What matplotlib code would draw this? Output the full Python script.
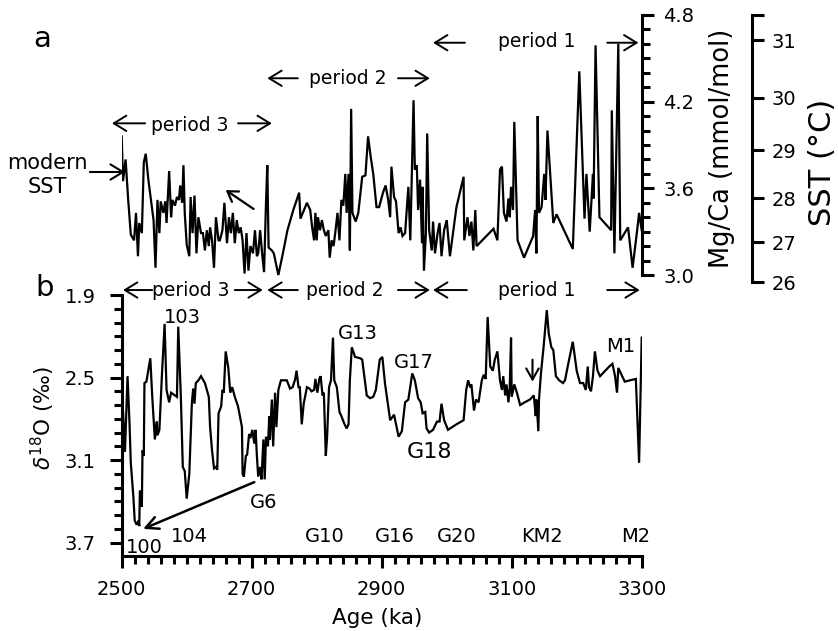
import numpy as np
import matplotlib.pyplot as plt
from matplotlib.ticker import FixedLocator, MultipleLocator, FormatStrFormatter

plt.rcParams['font.family'] = 'DejaVu Sans'
plt.rcParams['mathtext.fontset'] = 'dejavusans'

# planktonic Mg/Ca record (mmol/mol)
mgca_age = [2500, 2502, 2506, 2510, 2514, 2519, 2522, 2525, 2527, 2531, 2534, 2537,
            2541, 2545, 2549, 2552, 2555, 2558, 2560, 2564, 2567, 2569, 2573, 2576,
            2578, 2582, 2585, 2588, 2590, 2593, 2595, 2597, 2600, 2604, 2606, 2609,
            2612, 2615, 2618, 2622, 2625, 2628, 2631, 2634, 2636, 2639, 2642, 2645,
            2649, 2651, 2655, 2658, 2662, 2665, 2668, 2671, 2674, 2677, 2680, 2683,
            2686, 2689, 2692, 2695, 2698, 2702, 2705, 2708, 2710, 2713, 2716, 2719,
            2722, 2724, 2726, 2731, 2734, 2741, 2748, 2755, 2764, 2773, 2775, 2785,
            2790, 2793, 2796, 2798, 2800, 2802, 2805, 2808, 2811, 2814, 2818, 2820,
            2823, 2826, 2829, 2832, 2835, 2838, 2841, 2844, 2846, 2849, 2851, 2853,
            2855, 2860, 2864, 2870, 2875, 2879, 2883, 2887, 2892, 2896, 2902, 2906,
            2910, 2913, 2915, 2919, 2922, 2926, 2929, 2932, 2936, 2941, 2944, 2949,
            2951, 2954, 2956, 2959, 2962, 2963, 2965, 2968, 2970, 2973, 2977, 2979,
            2982, 2986, 2989, 2992, 2996, 3000, 3005, 3015, 3026, 3027, 3032, 3035,
            3038, 3041, 3044, 3046, 3072, 3078, 3082, 3085, 3088, 3092, 3095, 3097,
            3099, 3102, 3104, 3109, 3119, 3133, 3136, 3138, 3140, 3142, 3146, 3150,
            3152, 3155, 3164, 3169, 3194, 3204, 3212, 3215, 3220, 3225, 3226, 3229,
            3235, 3253, 3254, 3258, 3264, 3267, 3279, 3286, 3293, 3296, 3300]
mgca = [3.96, 3.65, 3.80, 3.52, 3.28, 3.24, 3.43, 3.13, 3.36, 3.29, 3.78, 3.84,
        3.66, 3.52, 3.38, 3.05, 3.52, 3.29, 3.51, 3.43, 3.51, 3.36, 3.72, 3.40,
        3.52, 3.48, 3.54, 3.52, 3.62, 3.50, 3.76, 3.43, 3.21, 3.13, 3.54, 3.29,
        3.55, 3.15, 3.40, 3.29, 3.29, 3.17, 3.31, 3.20, 3.33, 3.24, 3.05, 3.40,
        3.24, 3.24, 3.31, 3.50, 3.22, 3.40, 3.29, 3.43, 3.22, 3.38, 3.29, 3.33,
        3.24, 3.01, 3.29, 3.03, 3.20, 3.15, 3.31, 3.13, 3.15, 3.31, 3.15, 3.02,
        3.50, 3.76, 3.19, 3.17, 3.15, 3.00, 3.15, 3.31, 3.45, 3.57, 3.39, 3.50,
        3.45, 3.33, 3.24, 3.43, 3.24, 3.40, 3.31, 3.38, 3.31, 3.27, 3.31, 3.12,
        3.24, 3.20, 3.31, 3.43, 3.24, 3.52, 3.48, 3.70, 3.43, 3.70, 3.17, 4.15,
        3.43, 3.37, 3.43, 3.68, 3.69, 3.96, 3.82, 3.70, 3.47, 3.47, 3.57, 3.62,
        3.52, 3.40, 3.75, 3.54, 3.51, 3.29, 3.33, 3.27, 3.29, 3.61, 3.24, 4.21,
        3.73, 3.76, 3.45, 3.66, 3.22, 3.61, 3.03, 3.29, 3.98, 3.31, 3.17, 3.37,
        3.15, 3.29, 3.36, 3.13, 3.31, 3.38, 3.13, 3.47, 3.68, 3.24, 3.40, 3.27,
        3.37, 3.17, 3.45, 3.20, 3.32, 3.24, 3.73, 3.75, 3.43, 3.37, 3.53, 3.40,
        3.61, 3.45, 4.06, 3.24, 3.12, 3.27, 3.45, 3.15, 4.10, 3.43, 3.47, 3.70,
        3.52, 4.00, 3.36, 3.42, 3.18, 4.41, 3.39, 3.70, 3.30, 3.70, 3.53, 4.59,
        3.40, 3.31, 4.14, 3.15, 4.60, 3.24, 3.33, 3.05, 3.31, 3.43, 3.31]

# benthic oxygen isotope record (per mil)
d18o_age = [2500, 2502, 2505, 2509, 2512, 2514, 2518, 2520, 2523, 2526, 2527, 2528,
            2531, 2532, 2534, 2535, 2538, 2544, 2547, 2551, 2554, 2555, 2558, 2562,
            2566, 2569, 2573, 2576, 2582, 2585, 2587, 2591, 2594, 2597, 2600, 2604,
            2608, 2610, 2612, 2614, 2618, 2622, 2628, 2634, 2636, 2639, 2642, 2645,
            2647, 2649, 2653, 2655, 2657, 2660, 2664, 2667, 2670, 2674, 2679, 2685,
            2686, 2688, 2691, 2693, 2696, 2698, 2701, 2704, 2706, 2708, 2710, 2713,
            2715, 2718, 2720, 2722, 2725, 2727, 2728, 2731, 2733, 2736, 2738, 2741,
            2745, 2754, 2759, 2763, 2767, 2769, 2772, 2774, 2777, 2780, 2785, 2789,
            2792, 2796, 2798, 2801, 2804, 2806, 2809, 2811, 2814, 2816, 2819, 2822,
            2825, 2827, 2831, 2835, 2838, 2842, 2846, 2849, 2851, 2854, 2859, 2867,
            2870, 2877, 2882, 2887, 2891, 2897, 2901, 2905, 2913, 2919, 2926, 2931,
            2936, 2941, 2947, 2951, 2956, 2960, 2963, 2967, 2969, 2973, 2979, 2985,
            2989, 2992, 2996, 3002, 3015, 3026, 3030, 3033, 3036, 3038, 3042, 3045,
            3049, 3054, 3057, 3060, 3063, 3067, 3071, 3074, 3078, 3082, 3085, 3087,
            3090, 3092, 3095, 3097, 3099, 3100, 3104, 3108, 3113, 3120, 3128, 3134,
            3137, 3138, 3141, 3142, 3145, 3149, 3154, 3157, 3161, 3164, 3168, 3173,
            3179, 3182, 3187, 3194, 3200, 3205, 3210, 3214, 3217, 3219, 3222, 3225,
            3228, 3232, 3236, 3244, 3250, 3255, 3259, 3262, 3264, 3268, 3274, 3282,
            3291, 3296, 3300]
d18o = [2.76, 2.74, 3.04, 2.49, 2.83, 3.12, 3.37, 3.54, 3.57, 3.54, 3.58, 3.32,
        3.44, 3.03, 3.07, 2.54, 2.53, 2.36, 2.64, 2.95, 2.82, 2.92, 2.88, 2.47,
        2.11, 2.59, 2.68, 2.61, 2.63, 2.64, 2.13, 2.64, 3.15, 3.18, 3.38, 3.20,
        2.68, 2.58, 2.69, 2.54, 2.52, 2.49, 2.54, 2.64, 2.86, 3.03, 3.16, 3.15,
        3.17, 2.76, 2.71, 2.59, 2.61, 2.31, 2.43, 2.61, 2.57, 2.64, 2.71, 2.86,
        3.20, 3.22, 3.07, 3.06, 2.91, 2.94, 2.88, 2.98, 2.88, 3.07, 3.22, 3.15,
        3.24, 2.95, 3.24, 2.93, 3.00, 2.78, 2.95, 2.66, 3.00, 2.61, 2.86, 2.59,
        2.52, 2.52, 2.58, 2.57, 2.51, 2.45, 2.57, 2.57, 2.84, 2.69, 2.57, 2.58,
        2.60, 2.59, 2.51, 2.61, 2.51, 2.49, 2.63, 2.61, 3.07, 2.93, 2.57, 2.52,
        2.21, 2.52, 2.57, 2.75, 2.78, 2.83, 2.87, 2.84, 2.52, 2.28, 2.35, 2.36,
        2.37, 2.63, 2.65, 2.64, 2.59, 2.37, 2.35, 2.54, 2.81, 2.77, 2.93, 2.89,
        2.68, 2.66, 2.47, 2.52, 2.65, 2.68, 2.76, 2.75, 2.87, 2.90, 2.88, 2.82,
        2.82, 2.69, 2.81, 2.88, 2.84, 2.81, 2.59, 2.52, 2.57, 2.55, 2.74, 2.66,
        2.68, 2.52, 2.48, 2.51, 2.06, 2.42, 2.45, 2.37, 2.31, 2.52, 2.59, 2.49,
        2.63, 2.55, 2.68, 2.57, 2.21, 2.64, 2.55, 2.61, 2.70, 2.68, 2.66, 2.63,
        2.78, 2.66, 2.89, 2.66, 2.47, 2.28, 2.01, 2.18, 2.28, 2.30, 2.49, 2.52,
        2.54, 2.52, 2.40, 2.24, 2.45, 2.54, 2.54, 2.59, 2.42, 2.57, 2.60, 2.49,
        2.31, 2.45, 2.49, 2.45, 2.42, 2.40, 2.49, 2.61, 2.43, 2.47, 2.53, 2.52,
        2.51, 3.12, 2.21]

# isotope stage names and where they are written (age, d18O baseline)
stage_names = ['103', 'G13', 'G17', 'G18', 'G6', '104', '100',
               'G10', 'G16', 'G20', 'KM2', 'M2', 'M1']
stage_age = [2593, 2863, 2950, 2973, 2719, 2604, 2535,
             2813, 2920, 3015, 3147, 3291, 3267]
stage_y = [2.106, 2.222, 2.433, 3.087, 3.450, 3.693, 3.777,
           3.693, 3.693, 3.693, 3.693, 3.693, 2.312]

sst_ticks = [26, 27, 28, 29, 30, 31]


def sst_to_mgca(t):
    return 0.284 * np.exp(0.09 * np.asarray(t))


W, H = 838, 631
fig = plt.figure(figsize=(W / 100, H / 100), dpi=100)


def box(left, top, right, bottom):
    return [left / W, 1 - bottom / H, (right - left) / W, (bottom - top) / H]


ax_a = fig.add_axes(box(121.7, 13, 641.7, 285))
ax_b = fig.add_axes(box(121.7, 295, 641.7, 556))
for ax in (ax_a, ax_b):
    ax.set_facecolor('none')

LW_AX = 2.2
TICK_MAJ, TICK_MIN = 8.6, 5.5


def arrow(ax, tail, tip, hl=0.9, hw=0.55, lw=1.4):
    ax.annotate('', xy=tip, xytext=tail, annotation_clip=False,
                arrowprops=dict(arrowstyle='->,head_length=%g,head_width=%g' % (hl, hw),
                                lw=lw, color='k', shrinkA=0, shrinkB=0,
                                mutation_scale=10))


# ---- panel a: Mg/Ca and SST
ax_a.plot(mgca_age, mgca, color='k', lw=1.6, solid_joinstyle='miter')
ax_a.set_xlim(2500, 3300)
ax_a.set_ylim(2.9308, 4.8138)

ax_t = ax_a.twinx()
ax_t.set_ylim(ax_a.get_ylim())

for s in ('left', 'top', 'bottom'):
    ax_a.spines[s].set_visible(False)
    ax_t.spines[s].set_visible(False)
ax_a.spines['right'].set_linewidth(LW_AX)
ax_a.spines['right'].set_bounds(3.0, 4.8)
ax_a.set_xticks([])
ax_a.yaxis.tick_right()
ax_a.yaxis.set_major_locator(FixedLocator([3.0, 3.6, 4.2, 4.8]))
ax_a.yaxis.set_minor_locator(FixedLocator(np.round(np.arange(3.0, 4.81, 0.1), 1)))
ax_a.yaxis.set_major_formatter(FormatStrFormatter('%.1f'))
ax_a.tick_params(axis='y', which='major', length=TICK_MAJ, width=LW_AX, pad=7, labelsize=14)
ax_a.tick_params(axis='y', which='minor', length=TICK_MIN, width=LW_AX)

ax_t.spines['right'].set_position(('axes', (751.7 - 121.7) / 520))
ax_t.spines['right'].set_linewidth(LW_AX)
ax_t.spines['right'].set_bounds(float(sst_to_mgca(26)), 4.8)
ax_t.set_yticks(list(sst_to_mgca(sst_ticks)) + [4.8])
ax_t.set_yticklabels([str(t) for t in sst_ticks] + [''])
ax_t.tick_params(axis='y', which='major', length=TICK_MAJ, width=LW_AX, pad=6, labelsize=14)

fig.text(722 / W, 1 - 148.5 / H, 'Mg/Ca (mmol/mol)', rotation=90,
         ha='center', va='center', fontsize=18.5)
fig.text(822 / W, 1 - 162 / H, 'SST (\u00b0C)', rotation=90,
         ha='center', va='center', fontsize=22)

# period brackets over the Mg/Ca curve
arrow(ax_a, (2536, 4.050), (2485, 4.050))
ax_a.text(2605, 3.999, 'period 3', ha='center', va='baseline', fontsize=13.5)
arrow(ax_a, (2679, 4.050), (2731, 4.050))
arrow(ax_a, (2771, 4.362), (2724, 4.362))
ax_a.text(2848, 4.320, 'period 2', ha='center', va='baseline', fontsize=13.5)
arrow(ax_a, (2925, 4.362), (2974, 4.362))
arrow(ax_a, (3028, 4.608), (2979, 4.608))
ax_a.text(3138, 4.575, 'period 1', ha='center', va='baseline', fontsize=13.5)
arrow(ax_a, (3247, 4.608), (3295, 4.608))

# the last line of the label sits on this baseline
ax_a.text(2385, 3.568, 'modern\nSST', ha='center', va='baseline', fontsize=15,
          linespacing=1.25)
arrow(ax_a, (2451, 3.713), (2505, 3.713), hl=0.9, hw=0.55, lw=1.5)
arrow(ax_a, (2703, 3.457), (2660, 3.588), hl=0.7, hw=0.45, lw=1.6)

# ---- panel b: benthic d18O
ax_b.plot(d18o_age, d18o, color='k', lw=1.6, solid_joinstyle='miter')
ax_b.set_xlim(2500, 3300)
ax_b.set_ylim(3.797, 1.9)
ax_b.spines['top'].set_visible(False)
ax_b.spines['right'].set_visible(False)
for s in ('left', 'bottom'):
    ax_b.spines[s].set_linewidth(LW_AX)
ax_b.xaxis.set_major_locator(FixedLocator([2500, 2700, 2900, 3100, 3300]))
ax_b.xaxis.set_minor_locator(MultipleLocator(20))
ax_b.yaxis.set_major_locator(FixedLocator([1.9, 2.5, 3.1, 3.7]))
ax_b.yaxis.set_minor_locator(FixedLocator(np.round(np.arange(1.9, 3.71, 0.1), 1)))
ax_b.yaxis.set_major_formatter(FormatStrFormatter('%.1f'))
ax_b.tick_params(axis='x', which='major', length=TICK_MAJ, width=LW_AX, pad=9, labelsize=14)
ax_b.tick_params(axis='x', which='minor', length=TICK_MIN, width=LW_AX)
ax_b.tick_params(axis='y', which='major', length=TICK_MAJ, width=LW_AX, pad=10, labelsize=14)
ax_b.tick_params(axis='y', which='minor', length=TICK_MIN, width=LW_AX)

fig.text(43 / W, 1 - 418 / H, r'$\delta^{18}$O (‰)', rotation=90,
         ha='center', va='center', fontsize=15.5)
fig.text(376.7 / W, 1 - 618 / H, 'Age (ka)', ha='center', va='center', fontsize=15.5)

for name, x, y in zip(stage_names, stage_age, stage_y):
    ax_b.text(x, y, name, ha='center', va='baseline',
              fontsize=16 if name == 'G18' else 14)

arrow(ax_b, (2704, 3.26), (2533, 3.60), hl=0.9, hw=0.45, lw=1.8)
arrow(ax_b, (3132, 2.37), (3132, 2.53), hl=0.8, hw=0.45, lw=1.5)

# period brackets along the top of panel b
arrow(ax_b, (2547, 1.864), (2502, 1.864))
ax_b.text(2606, 1.904, 'period 3', ha='center', va='baseline', fontsize=13.5)
arrow(ax_b, (2674, 1.864), (2717, 1.864))
arrow(ax_b, (2771, 1.864), (2724, 1.864))
ax_b.text(2843, 1.904, 'period 2', ha='center', va='baseline', fontsize=13.5)
arrow(ax_b, (2925, 1.864), (2974, 1.864))
arrow(ax_b, (3031, 1.864), (2979, 1.864))
ax_b.text(3138, 1.904, 'period 1', ha='center', va='baseline', fontsize=13.5)
arrow(ax_b, (3247, 1.864), (3297, 1.864))

fig.text(42 / W, 1 - 46.7 / H, 'a', ha='center', va='baseline', fontsize=21)
fig.text(45 / W, 1 - 296 / H, 'b', ha='center', va='baseline', fontsize=21)

fig.savefig('out.png', dpi=100)
